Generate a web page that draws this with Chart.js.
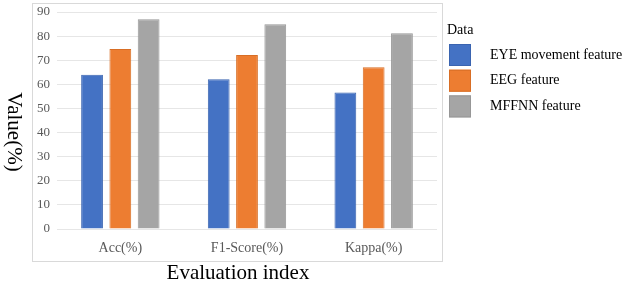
<!DOCTYPE html>
<html>
<head>
<meta charset="utf-8">
<script src="https://cdn.jsdelivr.net/npm/chart.js@4/dist/chart.umd.min.js"></script>
<style>
  html, body { margin: 0; padding: 0; background: #fff; }
  #wrap { width: 624px; height: 284px; position: relative; }
</style>
</head>
<body>
<div id="wrap"><canvas id="chart" width="624" height="284"></canvas></div>
<script>
// data
const categories = ['Acc(%)', 'F1-Score(%)', 'Kappa(%)'];
const seriesNames = ['EYE movement feature', 'EEG feature', 'MFFNN feature'];
const eyeValues = [64.0, 62.1, 56.6];
const eegValues = [74.7, 72.2, 67.1];
const mffnnValues = [87.0, 84.9, 81.2];
const yTicks = [0, 10, 20, 30, 40, 50, 60, 70, 80, 90];

const fillColors = ['#4472C4', '#ED7D31', '#A5A5A5'];
const edgeColors = ['#3A64B0', '#D86E25', '#979797'];
const serif = '"Liberation Serif", "Times New Roman", serif';

// box frame, axis titles and the legend drawn round the plot area
const framePlugin = {
    id: 'frame',
    afterDraw(chart) {
        const ctx = chart.ctx;
        ctx.save();
        ctx.strokeStyle = '#d9d9d9';
        ctx.lineWidth = 1;
        ctx.strokeRect(32.5, 3.5, 410, 258);

        ctx.fillStyle = '#000';
        ctx.font = '21px ' + serif;
        ctx.textAlign = 'center';
        ctx.textBaseline = 'middle';
        ctx.fillText('Evaluation index', 238, 273);

        ctx.translate(14, 132);
        ctx.rotate(Math.PI / 2);
        ctx.fillText('Value(%)', 0, 0);
        ctx.restore();

        ctx.save();
        ctx.font = '14px ' + serif;
        ctx.textAlign = 'left';
        ctx.textBaseline = 'middle';
        ctx.fillStyle = '#000';
        ctx.fillText('Data', 447, 30);
        chart.data.datasets.forEach((ds, i) => {
            const y = 44 + i * 25.7;
            ctx.fillStyle = ds.backgroundColor;
            ctx.fillRect(449, y, 22, 22);
            ctx.strokeStyle = ds.borderColor;
            ctx.strokeRect(449.5, y + 0.5, 21, 21);
            ctx.fillStyle = '#000';
            ctx.fillText(ds.label, 490, y + 11);
        });
        ctx.restore();
    }
};

const datasets = [eyeValues, eegValues, mffnnValues].map((vals, i) => ({
    label: seriesNames[i],
    data: vals,
    backgroundColor: fillColors[i],
    borderColor: edgeColors[i],
    borderWidth: 1,
    barPercentage: 0.77,
    categoryPercentage: 0.67
}));

const chart = new Chart(document.getElementById('chart'), {
    type: 'bar',
    data: { labels: categories, datasets: datasets },
    options: {
        responsive: false,
        animation: false,
        layout: { padding: { top: 12, right: 187, bottom: 0, left: 0 } },
        plugins: {
            legend: { display: false },
            tooltip: { enabled: false }
        },
        scales: {
            x: {
                grid: { display: false, drawTicks: false },
                border: { display: false },
                ticks: {
                    color: '#595959',
                    font: { family: serif, size: 14 },
                    padding: 11
                },
                afterFit(scale) { scale.height = 55; }
            },
            y: {
                min: 0,
                max: 90,
                afterBuildTicks(scale) { scale.ticks = yTicks.map(v => ({ value: v })); },
                grid: { color: '#e6e6e6', drawTicks: false, lineWidth: 1 },
                border: { display: false },
                ticks: {
                    color: '#595959',
                    font: { family: serif, size: 13 },
                    padding: 7
                },
                afterFit(scale) {
                    scale.width = 57;
                    scale.paddingTop = 0;
                    scale.paddingBottom = 0;
                }
            }
        }
    },
    plugins: [framePlugin]
});
</script>
</body>
</html>
